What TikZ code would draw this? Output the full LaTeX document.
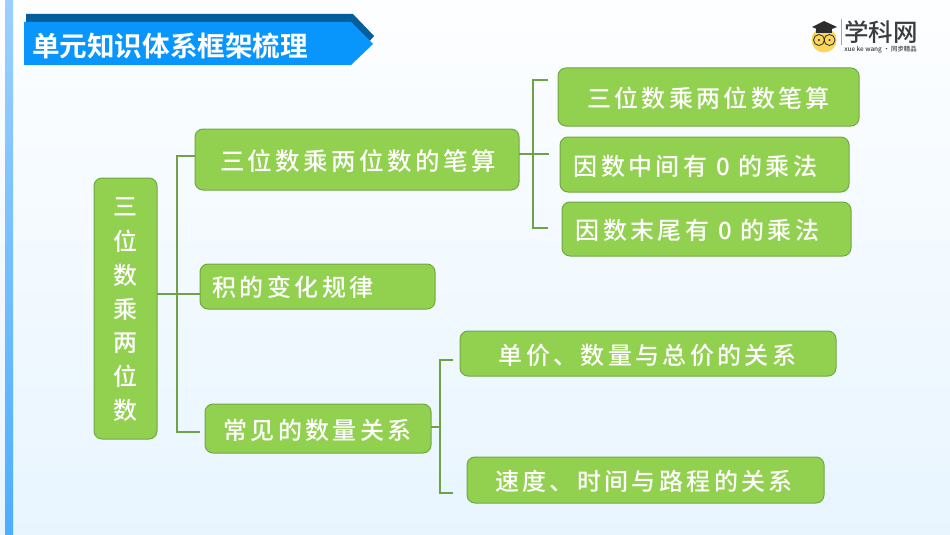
\documentclass[tikz,border=0pt]{standalone}
\usepackage{fontspec}
\setmainfont{Noto Sans CJK SC}
\newfontfamily\boxfont[LetterSpace=14]{Noto Sans CJK SC Medium}
\newfontfamily\titlefont{Noto Sans CJK SC Bold}
\newfontfamily\logofont{Noto Sans CJK SC Medium}
\usetikzlibrary{calc}
\definecolor{gfill}{HTML}{92D050}
\definecolor{gline}{HTML}{70A845}
\definecolor{conn}{HTML}{6FA247}
\definecolor{bgtop}{HTML}{FDFEFF}
\definecolor{bgbot}{HTML}{E8F5FF}
\definecolor{striptop}{HTML}{9CCFFF}
\definecolor{stripbot}{HTML}{4CAEFF}
\definecolor{bandback}{HTML}{035E9B}
\definecolor{bandfront}{HTML}{0896FC}
\definecolor{logoface}{HTML}{FAD75A}
\definecolor{logodark}{HTML}{2D2D2D}
\definecolor{logotext}{HTML}{3C3C3C}
\tikzset{
  x=1pt,y=-1pt,
  gbox/.style={draw=gline,line width=1pt,fill=gfill,rounded corners=8pt,anchor=north west,inner sep=0pt,outer sep=0pt,text=white},
  wire/.style={draw=conn,line width=1.3pt},
  boxtext/.style={text=white,inner sep=0pt,anchor=center,font=\fontsize{24}{26}\boxfont},
}
\newcommand{\gb}[5]{\node[gbox,minimum width=#4-#2,minimum height=#5-#3] (#1) at (#2,#3) {};}
\begin{document}
\begin{tikzpicture}
\useasboundingbox (0,0) rectangle (950,535);
\shade[top color=bgtop,bottom color=bgbot] (0,0) rectangle (950,535);
\shade[top color=striptop,bottom color=stripbot] (5,0) rectangle (13,535);
% title banner
\fill[bandback] (26,14) -- (353,14) -- (374,36) -- (362,50) -- (26,50) -- cycle;
\fill[bandfront] (24,22) -- (351,22) -- (373,44) -- (351,65) -- (24,65) -- cycle;
\node[text=white,inner sep=0pt,anchor=center,font=\fontsize{27.6}{30}\titlefont] (title) at (170,45.5) {单元知识体系框架梳理};
% logo
\fill[logoface] (824,40) circle (12.5);
\fill[logodark] (812,27) -- (824,21) -- (837,27) -- (824,32) -- cycle;
\fill[logodark] (816,29) rectangle (832,33);
\draw[logodark,line width=.8pt] (819,40) circle (5.5) (829.5,40) circle (5.5);
\fill[logodark] (819,40) circle (1.1) (829.5,40) circle (1.1);
\draw[color=gray!70,line width=.6pt] (841,19) -- (841,45);
\node[text=logotext,inner sep=0pt,font=\fontsize{24.5}{25}\logofont] (logo) at (881,32.5) {学科网};
\node[text=logotext,inner sep=0pt,font=\fontsize{6.4}{7}\logofont] (logosub) at (880.5,50) {xue ke wang · 同步精品};
% boxes
\gb{root}{94}{178}{157}{439}
\gb{A}{195}{129}{519}{190}
\gb{B}{200}{264}{435}{309}
\gb{C}{205}{404}{431}{453}
\gb{Aa}{558}{68}{859}{126}
\gb{Ab}{560}{137}{849}{192}
\gb{Ac}{562}{202}{851}{256}
\gb{Ca}{460}{331}{836}{376}
\gb{Cb}{467}{457}{824}{503}
% connectors
\coordinate (t1) at (177,294);
\coordinate (t1a) at (177,156);
\coordinate (t1c) at (177,432);
\coordinate (t1d) at (200,432);
\coordinate (t2) at (533,154);
\coordinate (t2a) at (533,80);
\coordinate (t2c) at (533,228);
\coordinate (t2e) at (549,154);
\coordinate (t2f) at (548,80);
\coordinate (t2g) at (548,228);
\coordinate (t3) at (440,427);
\coordinate (t3a) at (440,360);
\coordinate (t3c) at (440,493);
\coordinate (t3f) at (453,360);
\coordinate (t3g) at (453,493);
\draw[wire] (root.east |- t1) -- (t1 -| B.west);
\draw[wire] (A.west |- t1a) -- (t1a) -- (t1c) -- (t1d);
\draw[wire] (A.east |- t2) -- (t2e);
\draw[wire] (t2f) -- (t2a) -- (t2c) -- (t2g);
\draw[wire] (C.east |- t3) -- (t3);
\draw[wire] (t3f) -- (t3a) -- (t3c) -- (t3g);
% texts
\node[boxtext] at (125.5,207) {三};
\node[boxtext] at (125.5,241) {位};
\node[boxtext] at (125.5,275) {数};
\node[boxtext] at (125.5,309) {乘};
\node[boxtext] at (125.5,343) {两};
\node[boxtext] at (125.5,376) {位};
\node[boxtext] at (125.5,410) {数};
\node[boxtext,font=\fontsize{24.5}{26}\boxfont] at (358,161) {三位数乘两位数的笔算};
\node[boxtext] at (293,287) {积的变化规律};
\node[boxtext] at (317.5,430) {常见的数量关系};
\node[boxtext] at (708.5,98) {三位数乘两位数笔算};
\node[boxtext] at (695.5,166) {因数中间有 0 的乘法};
\node[boxtext] at (697.5,230) {因数末尾有 0 的乘法};
\node[boxtext] at (647.5,355) {单价、数量与总价的关系};
\node[boxtext] at (644,481) {速度、时间与路程的关系};
\end{tikzpicture}
\end{document}
